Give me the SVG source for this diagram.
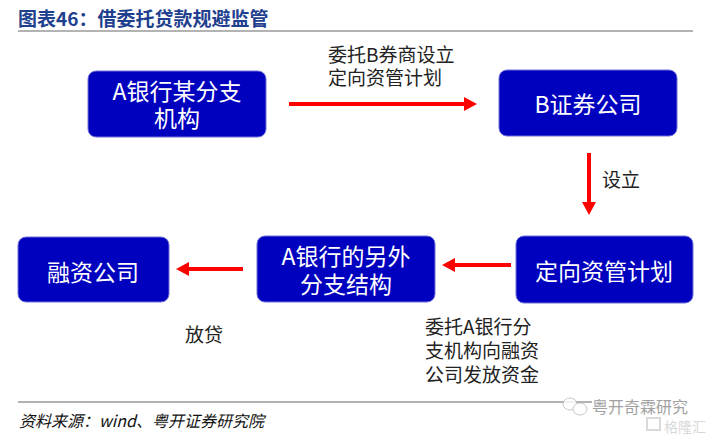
<svg xmlns="http://www.w3.org/2000/svg" width="721" height="440" viewBox="0 0 721 440">
<defs>
<style>
.box{fill:#0000BF;stroke:#7070d8;stroke-width:1}
.bt{fill:#ffffff;font-family:"Noto Sans CJK SC","Noto Sans",sans-serif;font-size:23px;text-anchor:middle}
.lbl{fill:#222222;font-family:"Noto Sans CJK SC","Noto Sans",sans-serif;font-size:19px}
.arr{stroke:#FF0000;stroke-width:4;fill:none;marker-end:url(#ah)}
.rule{stroke:#9a9a9a;stroke-width:1.5}
</style>
<marker id="ah" markerUnits="userSpaceOnUse" markerWidth="13" markerHeight="14" refX="2" refY="7" orient="auto">
<path d="M0,0 L13,7 L0,14 z" fill="#FF0000"/>
</marker>
</defs>
<rect width="721" height="440" fill="#ffffff"/>
<text x="18" y="26" font-family="'Noto Sans CJK SC','Noto Sans',sans-serif" font-size="19" font-weight="bold" fill="#1F3F8F">图表46：借委托贷款规避监管</text>
<line class="rule" x1="18" y1="31" x2="693" y2="31"/>

<g id="connectors">
<line class="arr" x1="289" y1="104" x2="466" y2="104"/>
<line class="arr" x1="589" y1="153" x2="589" y2="204"/>
<line class="arr" x1="511" y1="265" x2="453" y2="265"/>
<line class="arr" x1="243" y1="269" x2="187" y2="269"/>
<text class="lbl" x="328" y="62">委托B券商设立</text>
<text class="lbl" x="328" y="85">定向资管计划</text>
<text class="lbl" x="602" y="187">设立</text>
<text class="lbl" x="185" y="342">放贷</text>
<text class="lbl" x="425" y="334">委托A银行分</text>
<text class="lbl" x="425" y="358">支机构向融资</text>
<text class="lbl" x="425" y="382">公司发放资金</text>
</g>

<g id="node-a-branch">
<rect class="box" x="88" y="71" width="178" height="66" rx="8"/>
<text class="bt" x="177" y="100">A银行某分支</text>
<text class="bt" x="177" y="127">机构</text>
</g>
<g id="node-b-sec">
<rect class="box" x="499" y="70" width="178" height="66" rx="8"/>
<text class="bt" x="588" y="113">B证券公司</text>
</g>
<g id="node-plan">
<rect class="box" x="516" y="236" width="177" height="67" rx="8"/>
<text class="bt" x="604" y="280">定向资管计划</text>
</g>
<g id="node-a-other">
<rect class="box" x="257" y="236" width="178" height="66" rx="8"/>
<text class="bt" x="346" y="265">A银行的另外</text>
<text class="bt" x="346" y="293">分支结构</text>
</g>
<g id="node-finco">
<rect class="box" x="18" y="237" width="151" height="65" rx="8"/>
<text class="bt" x="93" y="281">融资公司</text>
</g>

<line class="rule" x1="18" y1="402" x2="592" y2="402"/>
<text x="19" y="427" font-family="'Noto Sans CJK SC','Noto Sans',sans-serif" font-size="16" font-style="italic" fill="#111111">资料来源：wind、粤开证券研究院</text>
<g id="watermark" opacity="0.8">
<ellipse cx="570" cy="404" rx="7" ry="6" fill="#ffffff" stroke="#bbbbbb" stroke-width="1"/>
<ellipse cx="580" cy="409" rx="7" ry="6" fill="#ffffff" stroke="#bbbbbb" stroke-width="1"/>
<text x="592" y="413" font-family="'Noto Sans CJK SC',sans-serif" font-size="16" fill="#8a8a8a">粤开奇霖研究</text>
<rect x="647" y="418" width="13" height="12" fill="none" stroke="#d0d0d0" stroke-width="2"/>
<text x="664" y="432" font-family="'Noto Sans CJK SC',sans-serif" font-size="14" fill="#cfcfcf">格隆汇</text>
</g>
</svg>
